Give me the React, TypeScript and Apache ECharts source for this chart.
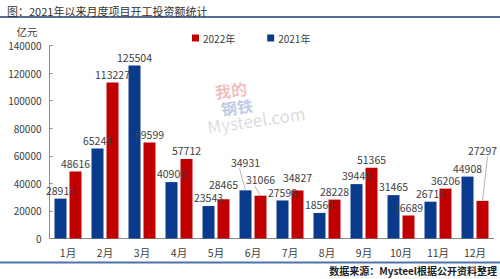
import React, { useEffect, useRef } from "react";
import * as echarts from "echarts";

const months = ["1月", "2月", "3月", "4月", "5月", "6月", "7月", "8月", "9月", "10月", "11月", "12月"];
const values2021 = [28914, 65244, 125504, 40906, 23543, 34931, 27598, 18560, 39449, 31465, 26714, 44908];
const values2022 = [48616, 113227, 69599, 57712, 28465, 31066, 34827, 28228, 51365, 16689, 36206, 27297];
const yTicks = { min: 0, max: 140000, interval: 20000 };

const FONT = "'Noto Sans CJK SC', 'Noto Sans', sans-serif";

// manual label lifts (px) keyed by "seriesIndex-dataIndex", as in the reference
const labelLift: Record<string, number> = { "0-5": -20, "1-5": -8, "1-11": -42, "1-4": -7, "1-6": -5 };
const withLeader = ["0-5", "1-5", "1-11"];
const LABEL_DIST = 3;

export default function App() {
  const ref = useRef<HTMLDivElement>(null);
  useEffect(() => {
    document.body.style.margin = "0";
    const chart = echarts.init(ref.current!, null, { renderer: "svg" });
    const labelCfg = {
      show: true,
      position: "top" as const,
      distance: LABEL_DIST,
      color: "#404040",
      fontSize: 10.5,
      fontFamily: FONT,
    };
    const layout = (p: any) => {
      const dy = labelLift[`${p.seriesIndex}-${p.dataIndex}`] || 0;
      return { dy };
    };
    const staticGraphics: any[] = [
      { id: "topline", type: "line", shape: { x1: 0, y1: 17, x2: 500, y2: 17 }, style: { stroke: "#1f3d73", lineWidth: 1.5 } },
      { id: "botline", type: "line", shape: { x1: 0, y1: 262.5, x2: 500, y2: 262.5 }, style: { stroke: "#4f72ad", lineWidth: 2 } },
      {
        id: "source",
        type: "text",
        right: 3,
        top: 265,
        style: { text: "数据来源：Mysteel根据公开资料整理", fontSize: 10, fill: "#222222", fontFamily: FONT, fontWeight: "bold" },
      },
      {
        id: "wm",
        type: "group",
        left: 206,
        top: 80,
        children: [
          { type: "text", x: 8, y: 0, rotation: 0.12, style: { text: "我的", fontSize: 16, fill: "rgba(205,70,70,0.35)", fontFamily: FONT, fontWeight: "bold" } },
          { type: "text", x: 14, y: 17, rotation: 0.12, style: { text: "钢铁", fontSize: 16, fill: "rgba(70,100,180,0.35)", fontFamily: FONT, fontWeight: "bold" } },
          { type: "text", x: 0, y: 34, rotation: 0.14, style: { text: "Mysteel.com", fontSize: 17, fill: "rgba(150,150,150,0.35)", fontFamily: FONT } },
        ],
      },
    ];
    chart.setOption({
      animation: false,
      backgroundColor: "#ffffff",
      textStyle: { fontFamily: FONT },
      title: {
        text: "图：2021年以来月度项目开工投资额统计",
        left: 2,
        top: 0,
        textStyle: { fontSize: 11, fontWeight: "normal", color: "#333333", fontFamily: FONT },
      },
      legend: {
        data: ["2022年", "2021年"],
        top: 28,
        left: 187,
        itemWidth: 7,
        itemHeight: 7,
        itemGap: 32,
        icon: "rect",
        textStyle: { fontSize: 10, color: "#404040", fontFamily: FONT, padding: [0, 0, 0, -1] },
      },
      grid: { left: 49.5, right: 6.5, top: 45.5, bottom: 40.5 },
      xAxis: {
        type: "category",
        data: months,
        axisLine: { lineStyle: { color: "#8c8c8c", width: 1 } },
        axisTick: { show: false },
        axisLabel: { color: "#404040", fontSize: 10.5, margin: 9, fontFamily: FONT },
      },
      yAxis: {
        type: "value",
        min: yTicks.min,
        max: yTicks.max,
        interval: yTicks.interval,
        name: "亿元",
        nameLocation: "end",
        nameGap: 9,
        nameTextStyle: { color: "#404040", fontSize: 10.5, align: "right", padding: [0, 12, 0, 0] },
        axisLine: { show: true, lineStyle: { color: "#8c8c8c", width: 1 } },
        axisTick: { show: true, inside: true, length: 3, lineStyle: { color: "#8c8c8c" } },
        splitLine: { show: false },
        axisLabel: { color: "#404040", fontSize: 10, margin: 8, fontFamily: FONT, formatter: (v: number) => String(v) },
      },
      series: [
        {
          name: "2021年",
          type: "bar",
          data: values2021,
          barWidth: 12,
          barGap: "25%",
          itemStyle: { color: "#0a3a8c" },
          label: labelCfg,
          labelLayout: layout,
        },
        {
          name: "2022年",
          type: "bar",
          data: values2022,
          barWidth: 12,
          itemStyle: { color: "#c00000" },
          label: labelCfg,
          labelLayout: layout,
        },
      ],
      graphic: staticGraphics,
    });

    // leader lines for lifted labels, from the bar's own layout
    const leaders: any[] = [];
    withLeader.forEach((key, i) => {
      const [si, di] = key.split("-").map(Number);
      const series: any = (chart as any).getModel().getSeriesByIndex(si);
      const lay = series.getData().getItemLayout(di);
      if (!lay) return;
      const cx = lay.x + lay.width / 2;
      const top = Math.min(lay.y, lay.y + lay.height);
      const labelBottom = top - LABEL_DIST + labelLift[key] + 1;
      leaders.push({
        id: `leader${i}`,
        type: "line",
        z: 10,
        shape: { x1: cx + (si === 1 && di === 11 ? 5 : -6), y1: labelBottom, x2: cx, y2: top },
        style: { stroke: "#b5b5b5", lineWidth: 1 },
      });
    });
    chart.setOption({ graphic: [...staticGraphics, ...leaders] });
    return () => chart.dispose();
  }, []);
  return <div ref={ref} style={{ width: 500, height: 279 }} />;
}
